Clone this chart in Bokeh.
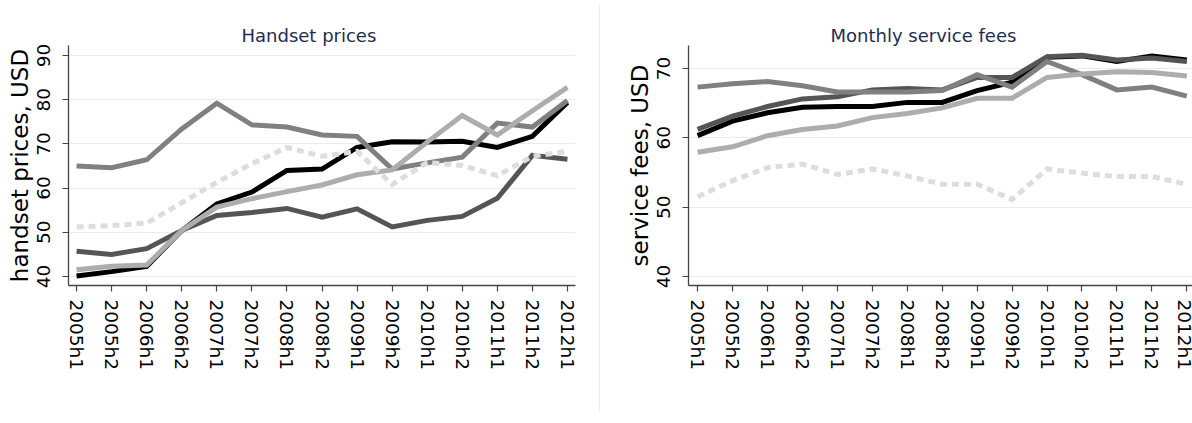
from bokeh.plotting import figure
from bokeh.models import FixedTicker, Legend, LegendItem, Range1d, Div
from bokeh.layouts import row
from bokeh.embed import file_html
from bokeh.resources import INLINE

periods = ["2005h1", "2005h2", "2006h1", "2006h2", "2007h1", "2007h2", "2008h1",
           "2008h2", "2009h1", "2009h2", "2010h1", "2010h2", "2011h1", "2011h2", "2012h1"]
carriers = ["ATT", "VER", "SPR", "TMO", "OTH"]

# Handset prices (USD)
handset_att = [40.1, 41.1, 42.3, 50.4, 56.4, 59.1, 64.0, 64.3, 69.2, 70.5, 70.4, 70.6, 69.2, 71.7, 79.4]
handset_ver = [45.7, 45.0, 46.3, 50.4, 53.8, 54.5, 55.4, 53.4, 55.3, 51.2, 52.7, 53.6, 57.7, 67.4, 66.5]
handset_spr = [65.0, 64.6, 66.4, 73.4, 79.2, 74.3, 73.8, 72.0, 71.7, 64.3, 65.7, 67.0, 74.7, 73.8, 79.8]
handset_tmo = [41.5, 42.3, 42.6, 50.4, 55.7, 57.6, 59.2, 60.7, 63.0, 64.1, 70.4, 76.4, 72.0, 77.5, 82.8]
handset_oth = [51.2, 51.5, 52.1, 56.7, 61.3, 65.5, 69.2, 67.2, 68.3, 60.8, 65.8, 65.1, 62.8, 67.2, 68.3]

# Monthly service fees (USD)
fees_att = [60.3, 62.4, 63.6, 64.4, 64.5, 64.5, 65.1, 65.1, 66.8, 68.0, 71.6, 71.8, 71.0, 71.8, 71.2]
fees_ver = [61.2, 63.1, 64.5, 65.6, 65.9, 66.9, 67.1, 66.9, 68.7, 68.7, 71.7, 71.9, 71.2, 71.5, 71.0]
fees_spr = [67.3, 67.8, 68.1, 67.5, 66.6, 66.6, 66.6, 66.8, 69.1, 67.3, 71.0, 69.1, 66.9, 67.3, 66.0]
fees_tmo = [57.9, 58.7, 60.3, 61.2, 61.7, 62.9, 63.5, 64.3, 65.7, 65.7, 68.7, 69.2, 69.5, 69.4, 68.9]
fees_oth = [51.5, 53.8, 55.7, 56.2, 54.7, 55.5, 54.5, 53.3, 53.3, 51.1, 55.5, 54.9, 54.4, 54.4, 53.3]

handset_ticks = [40, 50, 60, 70, 80, 90]
fees_ticks = [40, 50, 60, 70]

colors = ["#000000", "#555555", "#808080", "#adadad", "#dddddd"]
dashes = ["solid", "solid", "solid", "solid", "7 5"]

FONT = "DejaVu Sans"
xs = list(range(len(periods)))


def panel(title, ylabel, series, yr, yticks, width, xr, mb_left, mb_right, title_offset):
    p = figure(width=width, height=407, output_backend="svg", toolbar_location=None,
               x_range=Range1d(*xr), y_range=Range1d(*yr),
               min_border_left=mb_left, min_border_right=mb_right,
               min_border_top=45, min_border_bottom=122)
    p.outline_line_color = None

    p.title.text = title
    p.title.text_font = FONT
    p.title.text_font_size = "18px"
    p.title.text_font_style = "normal"
    p.title.text_color = "#1f2d50"
    p.title.align = "left"
    p.title.offset = title_offset
    p.title.standoff = 0

    p.xgrid.visible = False
    p.ygrid.grid_line_color = "#e4edef"
    p.ygrid.grid_line_width = 1

    p.xaxis.ticker = FixedTicker(ticks=xs)
    p.xaxis.major_label_overrides = {i: s for i, s in enumerate(periods)}
    p.xaxis.major_label_orientation = "vertical"
    p.yaxis.ticker = FixedTicker(ticks=yticks)
    p.yaxis.major_label_orientation = "vertical"
    p.yaxis.axis_label = ylabel
    for ax in (p.xaxis, p.yaxis):
        ax.axis_line_color = "#444444"
        ax.axis_line_width = 1.3
        ax.major_tick_line_color = "#444444"
        ax.major_tick_line_width = 1.2
        ax.major_tick_out = 6
        ax.major_tick_in = 0
        ax.minor_tick_line_color = None
        ax.major_label_text_font = FONT
        ax.major_label_text_font_size = "18.5px"
        ax.major_label_text_color = "black"
        ax.axis_label_text_font = FONT
        ax.axis_label_text_font_style = "normal"
        ax.axis_label_text_font_size = "23px"
        ax.axis_label_text_color = "black"
    p.xaxis.major_label_standoff = 8
    p.yaxis.major_label_standoff = 12
    p.yaxis.axis_label_standoff = 2

    items = []
    for name, ys, c, d in zip(carriers, series, colors, dashes):
        r = p.line(xs, ys, line_color=c, line_width=5, line_dash=d, line_join="miter")
        items.append(LegendItem(label=name, renderers=[r]))

    leg = Legend(items=items, orientation="horizontal", location=(10, -122),
                 label_text_font=FONT, label_text_font_size="20px", label_text_color="black",
                 glyph_width=42, glyph_height=18, label_standoff=6, spacing=11,
                 padding=2, margin=0, border_line_color=None, background_fill_alpha=0)
    p.add_layout(leg)
    return p


left = panel("Handset prices", "handset prices, USD",
             [handset_att, handset_ver, handset_spr, handset_tmo, handset_oth],
             (37.96, 92.26), handset_ticks, 594, (-0.23, 14.23), 68, 19, 173)
right = panel("Monthly service fees", "service fees, USD",
              [fees_att, fees_ver, fees_spr, fees_tmo, fees_oth],
              (38.7, 73.3), fees_ticks, 589, (-0.26, 14.22), 83, 0, 142)

sep = Div(width=1, height=407, styles={"background-color": "#ececec"})
layout = row(left, sep, right)

open("out.html", "w").write(file_html(layout, INLINE))
